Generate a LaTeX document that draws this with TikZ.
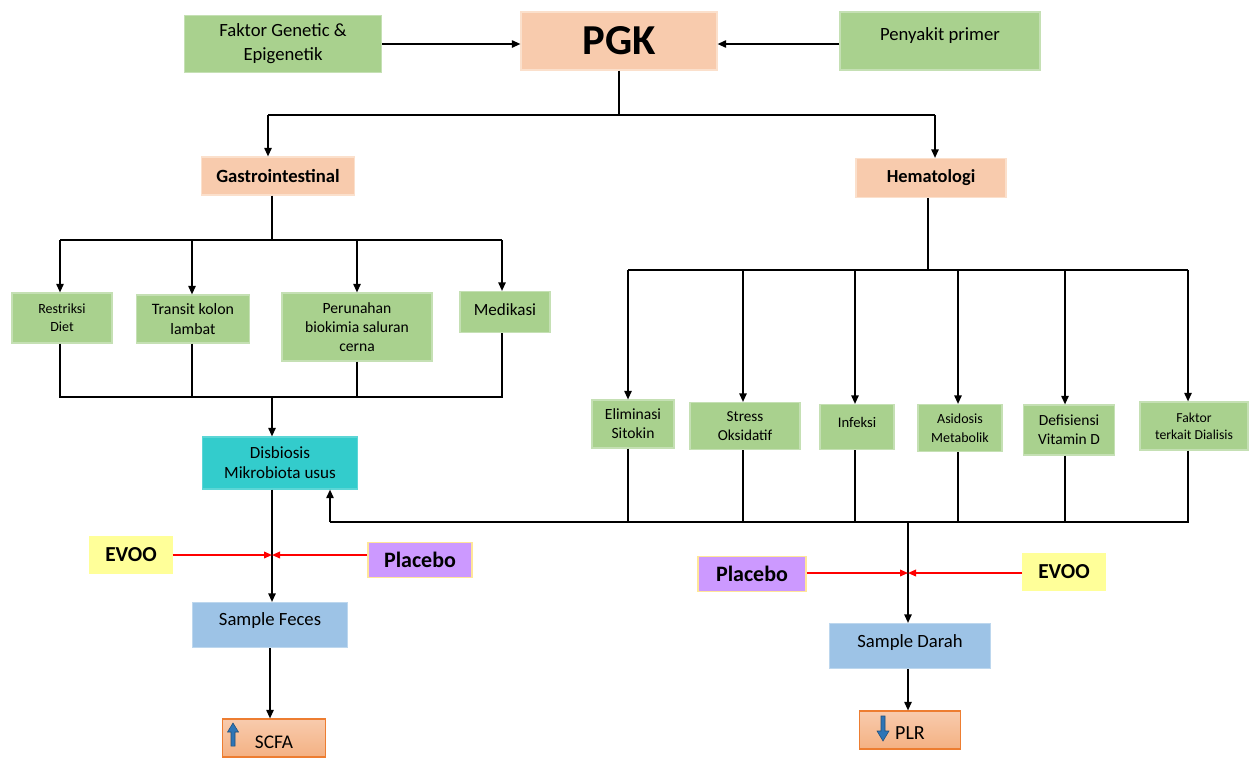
\documentclass[tikz,border=0pt]{standalone}
\usepackage{fontspec}
\setmainfont{Carlito}
\usetikzlibrary{arrows.meta,calc}
\definecolor{gfill}{HTML}{A9D18E}
\definecolor{gline}{HTML}{C5E0B4}
\definecolor{pfill}{HTML}{F8CBAD}
\definecolor{pline}{HTML}{FBE0CC}
\definecolor{bfill}{HTML}{9DC3E6}
\definecolor{bline}{HTML}{BDD7EE}
\definecolor{tfill}{HTML}{33CCCC}
\definecolor{yfill}{HTML}{FFFF99}
\definecolor{vfill}{HTML}{CC99FF}
\definecolor{vline}{HTML}{FFE699}
\definecolor{ofillA}{HTML}{F8CBAD}
\definecolor{ofillB}{HTML}{F4B183}
\definecolor{oline}{HTML}{ED7D31}
\definecolor{barrow}{HTML}{2E75B6}
\definecolor{barline}{HTML}{1F4E79}
\newcommand\txtshift[2]{\raisebox{#1}[\height][\depth]{#2}}
\newcommand\fs[1]{\fontsize{#1}{#1*1.22}\selectfont}
\begin{document}
\begin{tikzpicture}[x=0.75pt,y=-0.75pt,
  sz/.style 2 args={minimum width=#1*0.75pt, minimum height=#2*0.75pt},
  box/.style={rectangle, inner sep=1pt, align=center, line width=0.8pt, text=black},
  gbox/.style={box, fill=gfill, draw=gline},
  pbox/.style={box, fill=pfill, draw=pline},
  bbox/.style={box, fill=bfill, draw=bline},
  tbox/.style={box, fill=tfill, draw=tfill!80!white},
  ybox/.style={box, fill=yfill, draw=yfill, font=\fontsize{16}{19}\selectfont\bfseries},
  vbox/.style={box, fill=vfill, draw=vline, font=\fontsize{16.5}{19}\selectfont\bfseries},
  obox/.style={box, top color=ofillA, bottom color=ofillB, draw=oline},
  ln/.style={line width=1.3pt, black},
  arr/.style={ln, -{Triangle[length=6.5pt,width=5.5pt]}},
  rarr/.style={line width=1.1pt, red, -{Triangle[length=6pt,width=5pt]}},
  uparr/.style={fill=barrow, draw=barline, line width=0.4pt}
]
\useasboundingbox (0,0) rectangle (1259,758);

% top row
\node[gbox, sz={197}{57}, font=\fontsize{14}{18}\selectfont] (fge) at (283,44) {Faktor Genetic \&\\Epigenetik};
\node[pbox, sz={196}{58}, font=\fontsize{32}{36}\selectfont\bfseries] (pgk) at (619,41) {PGK};
\node[gbox, sz={200}{58}, font=\fontsize{14}{17}\selectfont] (pp) at (940,41) {\txtshift{4pt}{Penyakit primer}};
\draw[arr] (fge.east |- 0,44) -- (pgk.west |- 0,44);
\draw[arr] (pp.west |- 0,44) -- (pgk.east |- 0,44);

% second level
\node[pbox, sz={153}{38}, font=\fontsize{14}{16}\selectfont\bfseries] (gas) at (278,176) {Gastrointestinal};
\node[pbox, sz={150}{39}, font=\fontsize{13.8}{16}\selectfont\bfseries] (hem) at (931,178) {Hematologi};
\coordinate (j0) at (619,115);
\coordinate (jL) at (268,115);
\coordinate (jR) at (935,115);
\draw[ln] (pgk.south) -- (j0);
\draw[ln] (jL) -- (jR);
\draw[arr] (jL) -- (jL |- gas.north);
\draw[arr] (jR) -- (jR |- hem.north);

% gastro children
\node[gbox, sz={100}{50}, font=\fontsize{10.5}{13.5}\selectfont] (rd) at (62,318) {Restriksi\\Diet};
\node[gbox, sz={113}{48}, font=\fontsize{11.9}{14.5}\selectfont] (tk) at (193,319) {Transit kolon\\lambat};
\node[gbox, sz={150}{68}, font=\fontsize{11.7}{14.2}\selectfont] (pb) at (357,327) {Perunahan\\biokimia saluran\\cerna};
\node[gbox, sz={90}{41}, font=\fontsize{12.8}{15}\selectfont] (md) at (505,312) {\txtshift{1.5pt}{Medikasi}};
\coordinate (g0) at (272,240);
\coordinate (g1) at (60,240);
\coordinate (g2) at (192,240);
\coordinate (g3) at (357,240);
\coordinate (g4) at (502,240);
\draw[ln] (gas.south -| g0) -- (g0);
\draw[ln] (g1) -- (g4);
\draw[arr] (g1) -- (g1 |- rd.north);
\draw[arr] (g2) -- (g2 |- tk.north);
\draw[arr] (g3) -- (g3 |- pb.north);
\draw[arr] (g4) -- (g4 |- md.north);
\coordinate (c0) at (272,397);
\coordinate (c1) at (60,397);
\coordinate (c2) at (192,397);
\coordinate (c3) at (357,397);
\coordinate (c4) at (502,397);
\draw[ln] (rd.south -| c1) -- (c1) -- (c4) -- (md.south -| c4);
\draw[ln] (tk.south -| c2) -- (c2);
\draw[ln] (pb.south -| c3) -- (c3);

\node[tbox, sz={155}{52}, font=\fontsize{12.8}{15}\selectfont] (dis) at (280,463) {Disbiosis\\Mikrobiota usus};
\draw[arr] (c0) -- (c0 |- dis.north);

% hematologi children
\node[gbox, sz={82}{48}, font=\fontsize{11.7}{14.2}\selectfont] (el) at (633,424) {Eliminasi\\Sitokin};
\node[gbox, sz={110}{47}, font=\fontsize{11.4}{13.8}\selectfont] (so) at (745,426) {Stress\\Oksidatif};
\node[gbox, sz={74}{45}, font=\fontsize{11}{13}\selectfont] (inf) at (857,427) {\txtshift{3.5pt}{Infeksi}};
\node[gbox, sz={84}{47}, font=\fontsize{10.5}{14}\selectfont] (as) at (960,428) {Asidosis\\Metabolik};
\node[gbox, sz={91}{50}, font=\fontsize{11.6}{14}\selectfont] (dv) at (1069,430) {Defisiensi\\Vitamin D};
\node[gbox, sz={108}{48}, font=\fontsize{10.3}{13}\selectfont] (fd) at (1194,426) {Faktor\\terkait Dialisis};
\coordinate (h0) at (928,270);
\coordinate (h1) at (628,270);
\coordinate (h2) at (743,270);
\coordinate (h3) at (855,270);
\coordinate (h4) at (958,270);
\coordinate (h5) at (1065,270);
\coordinate (h6) at (1188,270);
\draw[ln] (hem.south -| h0) -- (h0);
\draw[ln] (h1) -- (h6);
\draw[arr] (h1) -- (h1 |- el.north);
\draw[arr] (h2) -- (h2 |- so.north);
\draw[arr] (h3) -- (h3 |- inf.north);
\draw[arr] (h4) -- (h4 |- as.north);
\draw[arr] (h5) -- (h5 |- dv.north);
\draw[arr] (h6) -- (h6 |- fd.north);
\coordinate (k0) at (330,522);
\coordinate (k1) at (628,522);
\coordinate (k2) at (743,522);
\coordinate (k3) at (855,522);
\coordinate (k4) at (958,522);
\coordinate (k5) at (1065,522);
\coordinate (k6) at (1188,522);
\coordinate (kd) at (908,522);
\draw[ln] (el.south -| k1) -- (k1);
\draw[ln] (so.south -| k2) -- (k2);
\draw[ln] (inf.south -| k3) -- (k3);
\draw[ln] (as.south -| k4) -- (k4);
\draw[ln] (dv.south -| k5) -- (k5);
\draw[ln] (fd.south -| k6) -- (k6) -- (k0);
\draw[arr] (k0) -- (k0 |- dis.south);

% left intervention
\node[bbox, sz={155}{45}, font=\fontsize{14}{16}\selectfont] (sf) at (270,625) {\txtshift{3pt}{Sample Feces}};
\node[ybox, sz={82}{36}] (ev1) at (131,555) {EVOO};
\node[vbox, sz={104}{35}] (pl1) at (420,560) {Placebo};
\coordinate (m1) at (272,555);
\draw[arr] (dis.south -| m1) -- (m1 |- sf.north);
\draw[rarr] (ev1.east |- m1) -- (m1);
\draw[rarr] (pl1.west |- m1) -- (m1);
\node[obox, sz={103}{38}, font=\fontsize{14.5}{16}\selectfont] (scfa) at (274,738) {\txtshift{-3pt}{SCFA}};
\draw[arr] (sf.south -| 270,0) -- (scfa.north -| 270,0);
\draw[uparr] (231,746) -- (231,732) -- (227.5,732) -- (233,723) -- (238.5,732) -- (235,732) -- (235,746) -- cycle;

% right intervention
\node[bbox, sz={161}{45}, font=\fontsize{14}{16}\selectfont] (sd) at (910,646) {\txtshift{2.5pt}{Sample Darah}};
\node[vbox, sz={108}{35}] (pl2) at (752,574) {Placebo};
\node[ybox, sz={82}{37}] (ev2) at (1064,572) {EVOO};
\coordinate (m2) at (908,573);
\draw[arr] (kd) -- (kd |- sd.north);
\draw[rarr] (pl2.east |- m2) -- (m2);
\draw[rarr] (ev2.west |- m2) -- (m2);
\node[obox, sz={101}{38}, font=\fontsize{15}{17}\selectfont] (plr) at (910,730) {\txtshift{-2.5pt}{PLR}};
\draw[arr] (sd.south -| 908,0) -- (plr.north -| 908,0);
\draw[uparr] (881,716) -- (885,716) -- (885,731) -- (889,731) -- (883,741) -- (877,731) -- (881,731) -- cycle;
\end{tikzpicture}
\end{document}
